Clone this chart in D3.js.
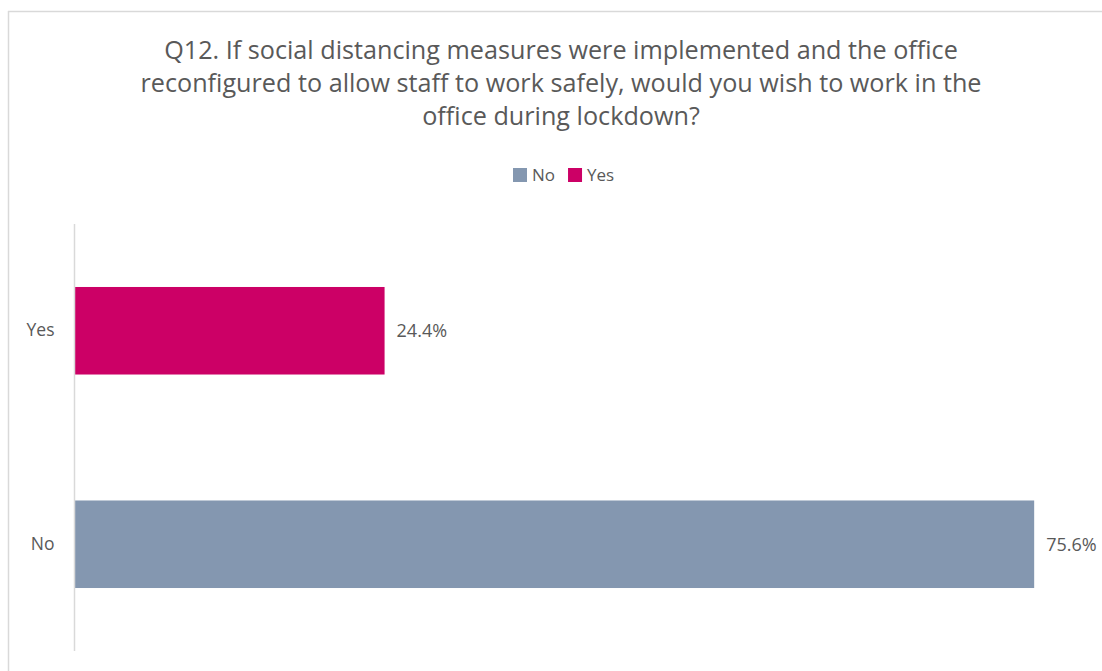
<!DOCTYPE html>
<html>
<head>
<meta charset="utf-8">
<script src="https://cdn.jsdelivr.net/npm/d3@7"></script>
<style>
  html, body { margin: 0; padding: 0; background: #fff; }
  svg { display: block; }
</style>
</head>
<body>
<svg id="chart" width="1102" height="671"></svg>
<script>
// Survey responses, Q12
const categories = ["Yes", "No"];
const values = [24.4, 75.6];
const legendLabels = ["No", "Yes"];
const titleLines = [
  "Q12. If social distancing measures were implemented and the office",
  "reconfigured to allow staff to work safely, would you wish to work in the",
  "office during lockdown?"
];

const colors = { No: "#8497b0", Yes: "#cc0066" };
const textColor = "#595959";
const fontFamily = "'Open Sans', 'Noto Sans', sans-serif";

const svg = d3.select("#chart");

// chart frame (top and left edges visible)
svg.append("line").attr("x1", 8).attr("y1", 11.5).attr("x2", 1102).attr("y2", 11.5)
  .attr("stroke", "#d9d9d9").attr("stroke-width", 1.5);
svg.append("line").attr("x1", 8.5).attr("y1", 11).attr("x2", 8.5).attr("y2", 671)
  .attr("stroke", "#d9d9d9").attr("stroke-width", 1.5);

// title
const title = svg.append("text")
  .attr("text-anchor", "middle")
  .attr("font-family", fontFamily)
  .attr("font-size", 25.2)
  .attr("fill", textColor);
titleLines.forEach((t, i) => {
  title.append("tspan").attr("x", 561).attr("y", 59 + i * 33).text(t);
});

// plot area
const plot = { left: 75, right: 1090, top: 224, bottom: 651 };

const x = d3.scaleLinear().domain([0, 80]).range([plot.left, plot.right]);
const y = d3.scaleBand().domain(categories).range([plot.top, plot.bottom]).paddingInner(0.59).paddingOuter(0.295);

// bars
svg.append("g").selectAll("rect")
  .data(categories.map((c, i) => ({ c, v: values[i] })))
  .join("rect")
  .attr("x", x(0))
  .attr("y", d => y(d.c))
  .attr("width", d => x(d.v) - x(0))
  .attr("height", y.bandwidth())
  .attr("fill", d => colors[d.c]);

// value labels
svg.append("g").selectAll("text")
  .data(categories.map((c, i) => ({ c, v: values[i] })))
  .join("text")
  .attr("x", d => x(d.v) + 12)
  .attr("y", d => y(d.c) + y.bandwidth() / 2)
  .attr("dy", "0.35em")
  .attr("font-family", fontFamily)
  .attr("font-size", 18)
  .attr("fill", textColor)
  .text(d => d.v.toFixed(1) + "%");

// category axis
const yAxis = d3.axisLeft(y).tickSize(0).tickPadding(20);
const ag = svg.append("g").attr("transform", `translate(${plot.left - 0.5},0)`).call(yAxis);
ag.select(".domain").attr("stroke", "#d9d9d9").attr("stroke-width", 1.5)
  .attr("d", `M0,${plot.top}V${plot.bottom}`);
ag.selectAll("text").attr("font-family", fontFamily).attr("font-size", 17.5).attr("fill", textColor);

// legend
const legend = svg.append("g").attr("transform", "translate(513,175)");
let lx = 0;
legendLabels.forEach(l => {
  legend.append("rect").attr("x", lx).attr("y", -7).attr("width", 14).attr("height", 14).attr("fill", colors[l]);
  const t = legend.append("text").attr("x", lx + 19).attr("y", 0).attr("dy", "0.35em")
    .attr("font-family", fontFamily).attr("font-size", 17).attr("fill", textColor).text(l);
  lx += 19 + t.node().getComputedTextLength() + 13;
});
</script>
</body>
</html>
